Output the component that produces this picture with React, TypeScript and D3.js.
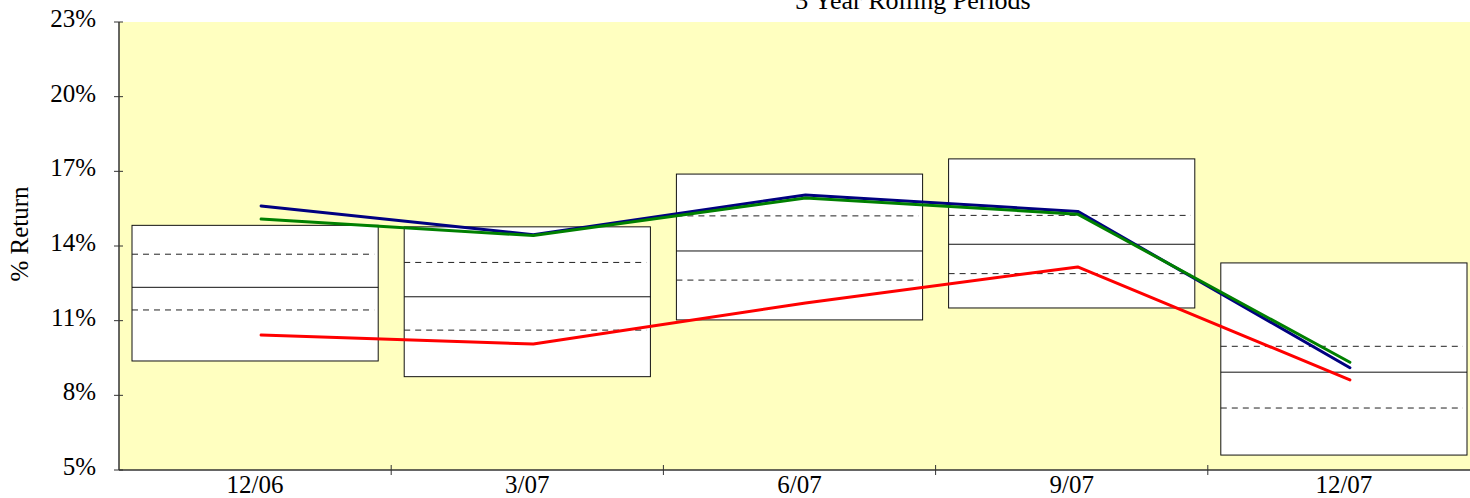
// App.tsx
// Box-range chart of 3 year rolling returns with three series lines, drawn with D3.

import React, { useRef, useEffect } from "react";
import * as d3 from "d3";

const categories = ["12/06", "3/07", "6/07", "9/07", "12/07"];

// Range boxes (percent)
const boxTop = [14.83, 14.77, 16.89, 17.5, 13.32];
const boxUpper = [13.67, 13.34, 15.21, 15.23, 9.97];
const boxMedian = [12.34, 11.96, 13.8, 14.07, 8.93];
const boxLower = [11.43, 10.62, 12.63, 12.89, 7.49];
const boxBottom = [9.38, 8.75, 11.03, 11.51, 5.6];

// Series lines (percent)
const redSeries = [10.42, 10.06, 11.71, 13.16, 8.62];
const blueSeries = [15.61, 14.45, 16.05, 15.39, 9.11];
const greenSeries = [15.08, 14.42, 15.93, 15.28, 9.33];

const yTicks = [5, 8, 11, 14, 17, 20, 23];

const App = () => {
  const svgRef = useRef<SVGSVGElement>(null);

  useEffect(() => {
    const width = 1470;
    const height = 498;
    const left = 119;
    const right = 1480;
    const top = 22;
    const bottom = 470;
    const font = "'Liberation Serif', 'Times New Roman', serif";

    const svg = d3.select(svgRef.current);
    svg.selectAll("*").remove();
    svg.attr("width", width).attr("height", height);

    const x = d3.scaleBand().domain(categories).range([left, right]).padding(0);
    const y = d3.scaleLinear().domain([5, 23]).range([bottom, top]);
    const inset = 13;

    // plot background
    svg
      .append("rect")
      .attr("x", left)
      .attr("y", top)
      .attr("width", right - left)
      .attr("height", bottom - top)
      .attr("fill", "#ffffc0");

    // boxes
    const boxes = svg
      .selectAll(".box")
      .data(categories)
      .enter()
      .append("g")
      .attr("class", "box");

    boxes
      .append("rect")
      .attr("x", (d) => x(d)! + inset)
      .attr("y", (d, i) => y(boxTop[i]))
      .attr("width", x.bandwidth() - inset * 2)
      .attr("height", (d, i) => y(boxBottom[i]) - y(boxTop[i]))
      .attr("fill", "#fff")
      .attr("stroke", "#111")
      .attr("stroke-width", 1);

    boxes
      .append("line")
      .attr("x1", (d) => x(d)! + inset)
      .attr("x2", (d) => x(d)! + x.bandwidth() - inset)
      .attr("y1", (d, i) => y(boxMedian[i]))
      .attr("y2", (d, i) => y(boxMedian[i]))
      .attr("stroke", "#111")
      .attr("stroke-width", 1);

    [boxUpper, boxLower].forEach((vals) => {
      boxes
        .append("line")
        .attr("x1", (d) => x(d)! + inset)
        .attr("x2", (d) => x(d)! + x.bandwidth() - inset - 4)
        .attr("y1", (d, i) => y(vals[i]))
        .attr("y2", (d, i) => y(vals[i]))
        .attr("stroke", "#222")
        .attr("stroke-width", 1)
        .attr("stroke-dasharray", "6,5");
    });

    // series lines
    const line = d3
      .line<number>()
      .x((d, i) => x(categories[i])! + x.bandwidth() / 2 + 6)
      .y((d) => y(d));

    [
      { vals: redSeries, color: "#ff0000" },
      { vals: blueSeries, color: "#000080" },
      { vals: greenSeries, color: "#008000" },
    ].forEach((s) => {
      svg
        .append("path")
        .attr("d", line(s.vals))
        .attr("fill", "none")
        .attr("stroke", s.color)
        .attr("stroke-width", 3)
        .attr("stroke-linejoin", "round")
        .attr("stroke-linecap", "round");
    });

    // axes
    const axisColor = "#333";
    svg
      .append("line")
      .attr("x1", left)
      .attr("x2", left)
      .attr("y1", top)
      .attr("y2", bottom)
      .attr("stroke", axisColor)
      .attr("stroke-width", 1.5);
    svg
      .append("line")
      .attr("x1", left)
      .attr("x2", right)
      .attr("y1", bottom)
      .attr("y2", bottom)
      .attr("stroke", axisColor)
      .attr("stroke-width", 1.5);

    const yAxis = svg.append("g");
    yAxis
      .selectAll("line")
      .data(yTicks)
      .enter()
      .append("line")
      .attr("x1", left - 5)
      .attr("x2", left + 4)
      .attr("y1", (d) => y(d))
      .attr("y2", (d) => y(d))
      .attr("stroke", axisColor)
      .attr("stroke-width", 1);
    yAxis
      .selectAll("text")
      .data(yTicks)
      .enter()
      .append("text")
      .attr("x", 96)
      .attr("y", (d) => y(d) + 5)
      .attr("text-anchor", "end")
      .attr("font-family", font)
      .attr("font-size", 25)
      .text((d) => `${d}%`);

    const xAxis = svg.append("g");
    xAxis
      .selectAll("line")
      .data(categories.slice(1))
      .enter()
      .append("line")
      .attr("x1", (d) => x(d)!)
      .attr("x2", (d) => x(d)!)
      .attr("y1", bottom - 5)
      .attr("y2", bottom + 5)
      .attr("stroke", axisColor)
      .attr("stroke-width", 1);
    xAxis
      .selectAll("text")
      .data(categories)
      .enter()
      .append("text")
      .attr("x", (d) => x(d)! + x.bandwidth() / 2)
      .attr("y", 493)
      .attr("text-anchor", "middle")
      .attr("font-family", font)
      .attr("font-size", 25)
      .text((d) => d);

    // axis title
    svg
      .append("text")
      .attr("transform", "translate(28,234) rotate(-90)")
      .attr("text-anchor", "middle")
      .attr("font-family", font)
      .attr("font-size", 25)
      .text("% Return");

    // chart title (cut off at the top)
    svg
      .append("text")
      .attr("x", 913)
      .attr("y", 9)
      .attr("text-anchor", "middle")
      .attr("font-family", font)
      .attr("font-size", 26)
      .text("3 Year Rolling Periods");
  }, []);

  return (
    <svg
      ref={svgRef}
      style={{ position: "absolute", left: 0, top: 0, display: "block" }}
    ></svg>
  );
};

export default App;
